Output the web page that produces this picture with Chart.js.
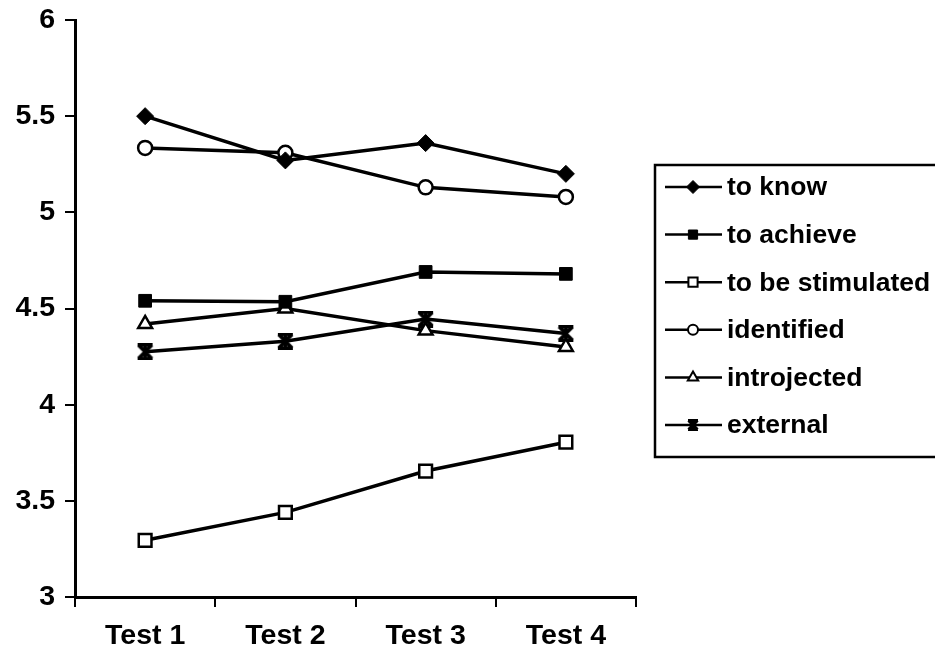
<!DOCTYPE html>
<html>
<head>
<meta charset="utf-8">
<script src="https://cdn.jsdelivr.net/npm/chart.js@4/dist/chart.umd.min.js"></script>
<style>
  html, body { margin: 0; padding: 0; background: #fff; }
  #wrap { width: 935px; height: 655px; }
</style>
</head>
<body>
<div id="wrap"><canvas id="myChart" width="935" height="655"></canvas></div>
<script>
  const labels = ['Test 1', 'Test 2', 'Test 3', 'Test 4'];

  const toKnow = [5.50, 5.27, 5.36, 5.20];
  const toAchieve = [4.54, 4.535, 4.69, 4.68];
  const toBeStimulated = [3.295, 3.44, 3.655, 3.805];
  const identified = [5.335, 5.31, 5.13, 5.08];
  const introjected = [4.42, 4.50, 4.385, 4.30];
  const external = [4.275, 4.33, 4.445, 4.37];

  const FONT = '"Liberation Sans", Arial, sans-serif';

  // hourglass-like star marker for "external"
  function starMarker(size, lw) {
    const c = document.createElement('canvas');
    c.width = size;
    c.height = size;
    const g = c.getContext('2d');
    const p = lw / 2;
    g.strokeStyle = '#000';
    g.lineWidth = lw;
    g.beginPath();
    g.moveTo(p, p); g.lineTo(size - p, size - p);
    g.moveTo(size - p, p); g.lineTo(p, size - p);
    g.moveTo(1, p); g.lineTo(size - 1, p);
    g.moveTo(1, size - p); g.lineTo(size - 1, size - p);
    g.moveTo(size / 2, p); g.lineTo(size / 2, size - p);
    g.stroke();
    return c;
  }

  function series(label, values, style, radius, fill, legendRadius) {
    return {
      label: label,
      data: values,
      borderColor: '#000',
      borderWidth: 3.5,
      tension: 0,
      pointStyle: style,
      pointRadius: radius,
      pointHoverRadius: radius,
      pointBackgroundColor: fill,
      pointBorderColor: '#000',
      pointBorderWidth: fill === '#fff' ? 2.5 : 1,
      legendRadius: legendRadius
    };
  }

  const datasets = [
    series('to know', toKnow, 'rectRot', 8.5, '#000', 6.5),
    series('to achieve', toAchieve, 'rect', 9, '#000', 6.5),
    series('to be stimulated', toBeStimulated, 'rect', 9, '#fff', 6.5),
    series('identified', identified, 'circle', 7, '#fff', 5),
    series('introjected', introjected, 'triangle', 8, '#fff', 6),
    series('external', external, starMarker(17, 3.5), 8.5, '#000', 6)
  ];
  datasets[5].legendStyle = starMarker(12, 3);

  const boxLegend = {
    id: 'boxLegend',
    afterDraw(chart) {
      const ctx = chart.ctx;
      const area = chart.chartArea;
      const left = area.right + 19;
      const top = 165;
      const step = 47.6;
      ctx.save();
      ctx.strokeStyle = '#000';
      ctx.lineWidth = 2.5;
      ctx.strokeRect(left, top, 320, 292);
      ctx.font = 'bold 26.5px ' + FONT;
      ctx.textBaseline = 'middle';
      chart.data.datasets.forEach((ds, i) => {
        const y = top + 22 + i * step;
        ctx.lineWidth = 2.5;
        ctx.strokeStyle = '#000';
        ctx.beginPath();
        ctx.moveTo(left + 10, y);
        ctx.lineTo(left + 67, y);
        ctx.stroke();
        ctx.fillStyle = ds.pointBackgroundColor;
        ctx.lineWidth = ds.pointBorderWidth === 1 ? 1 : 2;
        Chart.helpers.drawPoint(ctx, {
          pointStyle: ds.legendStyle || ds.pointStyle,
          radius: ds.legendRadius,
          rotation: 0,
          borderWidth: ctx.lineWidth
        }, left + 38, y);
        ctx.fillStyle = '#000';
        ctx.fillText(ds.label, left + 72, y + 1);
      });
      ctx.restore();
    }
  };

  const config = {
    type: 'line',
    data: { labels: labels, datasets: datasets },
    options: {
      responsive: false,
      animation: false,
      layout: { padding: { left: 12, right: 299, top: 0, bottom: 0 } },
      plugins: { legend: { display: false }, tooltip: { enabled: false } },
      scales: {
        x: {
          offset: true,
          afterFit(scale) { scale.height = 58; },
          grid: { offset: true, drawOnChartArea: false, tickLength: 10, color: '#000', lineWidth: 2 },
          border: { color: '#000', width: 3 },
          ticks: { color: '#000', padding: 12, font: { family: FONT, size: 28.5, weight: 'bold' } }
        },
        y: {
          min: 3,
          max: 6,
          afterFit(scale) {
            scale.width = 63;
            scale.paddingTop = 20;
            scale.paddingBottom = 0;
          },
          grid: { drawOnChartArea: false, tickLength: 10, color: '#000', lineWidth: 2 },
          border: { color: '#000', width: 3 },
          ticks: {
            stepSize: 0.5,
            color: '#000',
            padding: 10,
            font: { family: FONT, size: 28.5, weight: 'bold' },
            callback: (v) => String(Number(v))
          }
        }
      }
    },
    plugins: [boxLegend]
  };

  const myChart = new Chart(document.getElementById('myChart'), config);
</script>
</body>
</html>
